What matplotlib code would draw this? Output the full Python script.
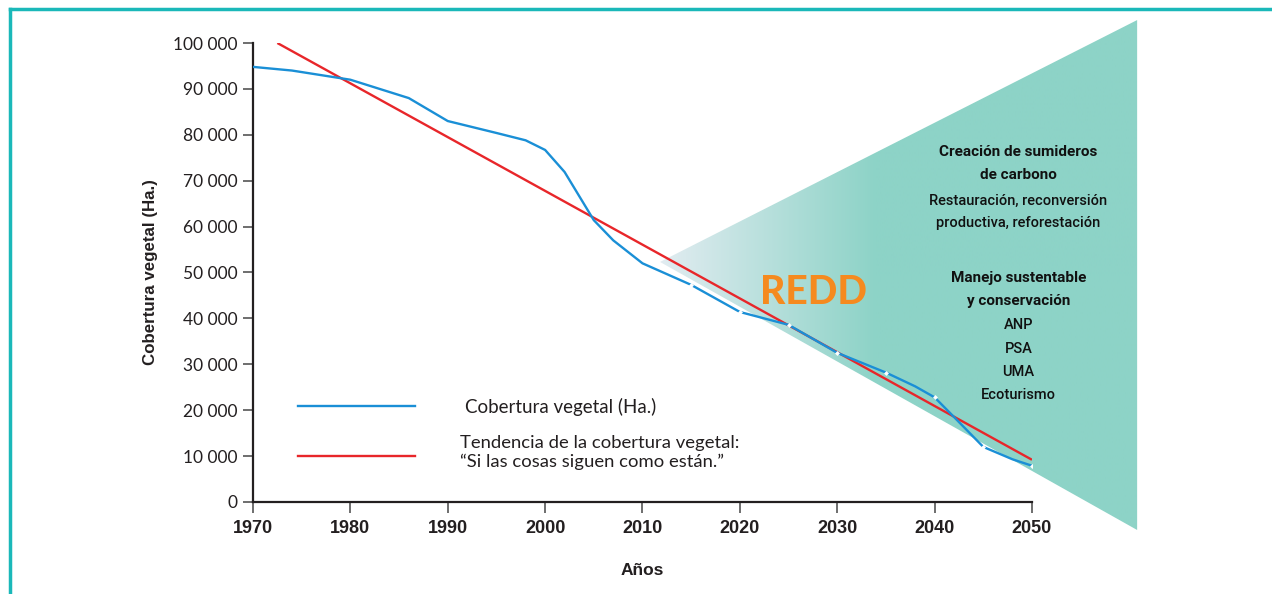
import numpy as np
import matplotlib.pyplot as plt
from matplotlib.lines import Line2D
from matplotlib.patches import Polygon
from matplotlib.ticker import FuncFormatter

# --------------------------
# data
# --------------------------
years_obs = [1970, 1974, 1980, 1986, 1990, 1995, 1998, 2000, 2002, 2005, 2007, 2010,
             2015, 2020, 2025, 2030, 2035, 2038, 2040, 2042, 2045, 2048, 2050]
cover_obs = [94800, 94000, 92000, 88000, 83000, 80400, 78800, 76700, 71900, 61400, 57000, 52000,
             47300, 41400, 38600, 32500, 28200, 25200, 22800, 18500, 12000, 9300, 7900]
dot_years = [2015, 2020, 2025, 2030, 2035, 2040, 2045, 2050]
dot_cover = [47300, 41400, 38600, 32500, 28200, 22800, 12000, 7900]

trend_years = [1972.5, 2050]
trend_cover = [100000, 9200]

# REDD wedge (year, hectares)
wedge_x = [2011.8, 2060.8, 2060.8]
wedge_y = [52300, 105000, -6100]

x_ticks = [1970, 1980, 1990, 2000, 2010, 2020, 2030, 2040, 2050]
y_ticks = list(range(0, 100001, 10000))

blue = "#1a8fd6"
red = "#e8262a"
border = "#1ab8b9"
ink = "#231f20"

plt.rcParams['font.family'] = ['Lato', 'DejaVu Sans']
boldfam = ['Liberation Sans', 'DejaVu Sans']

fig = plt.figure(figsize=(12.72, 5.94), dpi=100)
ax = fig.add_axes([0.1989, 0.1549, 0.6124, 0.7727])

# --------------------------
# wedge with gradient
# --------------------------
tri = Polygon(list(zip(wedge_x, wedge_y)), closed=True, facecolor="none", edgecolor="none",
              transform=ax.transData)
ax.add_patch(tri)
tri.set_clip_on(False)

nx = 400
t = np.clip(np.linspace(0, 1, nx) / 0.45, 0, 1)
c0 = np.array([226, 236, 241]) / 255
c1 = np.array([141, 211, 199]) / 255
grad = (c0[None, :] * (1 - t[:, None]) + c1[None, :] * t[:, None])[None, :, :]
im = ax.imshow(grad, extent=[min(wedge_x), max(wedge_x), min(wedge_y), max(wedge_y)],
               aspect="auto", origin="lower", zorder=0, interpolation="bilinear")
im.set_clip_box(fig.bbox)
im.set_clip_path(tri)

# --------------------------
# lines
# --------------------------
ax.plot(trend_years, trend_cover, color=red, lw=1.7, zorder=3, solid_capstyle="butt")
ax.plot(years_obs, cover_obs, color=blue, lw=1.7, zorder=4)
ax.plot(dot_years, dot_cover, linestyle="none", marker="D", ms=2.5, color="white",
        markeredgewidth=0, zorder=5)

ax.set_xlim(1970, 2050)
ax.set_ylim(0, 100000)
ax.set_xticks(x_ticks)
ax.set_yticks(y_ticks)
ax.yaxis.set_major_formatter(FuncFormatter(lambda v, p: f"{int(v):,}".replace(",", " ")))
for s in ["top", "right"]:
    ax.spines[s].set_visible(False)
for s in ["left", "bottom"]:
    ax.spines[s].set_linewidth(1.6)
    ax.spines[s].set_color(ink)
ax.tick_params(axis="y", direction="out", length=7, width=1.2, color="#555555",
               labelsize=12.5, labelcolor=ink, pad=4)
ax.tick_params(axis="x", direction="out", length=8, width=1.2, color="#555555",
               labelsize=13, labelcolor=ink, pad=5)
for lab in ax.get_xticklabels():
    lab.set_fontweight("bold")
    lab.set_family(boldfam)

ax.set_ylabel("Cobertura vegetal (Ha.)", fontsize=12.2, fontweight="bold", family=boldfam,
              color=ink, labelpad=11)
ax.set_xlabel("Años", fontsize=12.5, fontweight="bold", family=boldfam, color=ink, labelpad=19)

# --------------------------
# legend (drawn by hand to keep the original spacing)
# --------------------------
ax.plot([0.058, 0.208], [0.209, 0.209], color=blue, lw=1.7, transform=ax.transAxes)
ax.plot([0.058, 0.208], [0.100, 0.100], color=red, lw=1.7, transform=ax.transAxes)
ax.text(0.272, 0.207, "Cobertura vegetal (Ha.)", transform=ax.transAxes, fontsize=13.5,
        va="center", color=ink)
ax.text(0.266, 0.108, "Tendencia de la cobertura vegetal:\n\u201cSi las cosas siguen como están.\u201d",
        transform=ax.transAxes, fontsize=13.3, va="center", color=ink, linespacing=1.2)

# --------------------------
# wedge annotations
# --------------------------
ax.text(2027.6, 45700, "REDD", fontsize=28, fontweight="black", color="#f58a1f",
        ha="center", va="center", zorder=6, clip_on=False)

narrow = ['Roboto', 'DejaVu Sans']
lines = [
    ("Creación de sumideros", 76300, "bold"),
    ("de carbono", 71300, "bold"),
    ("Restauración, reconversión", 65600, "normal"),
    ("productiva, reforestación", 60800, "normal"),
    ("Manejo sustentable", 48800, "bold"),
    ("y conservación", 43800, "bold"),
    ("ANP", 38600, "normal"),
    ("PSA", 33300, "normal"),
    ("UMA", 28300, "normal"),
    ("Ecoturismo", 23300, "normal"),
]
for txt, yv, w in lines:
    ax.text(2048.6, yv, txt, family=narrow, fontsize=11 if w == "bold" else 10.5,
            fontweight="bold" if w == "bold" else "medium", ha="center", va="center",
            color="#111111", zorder=6, clip_on=False)

# teal frame on left and top
fig.add_artist(Line2D([0.0078, 0.0078], [0.0, 0.985], color=border, lw=2.5, transform=fig.transFigure))
fig.add_artist(Line2D([0.0078, 1.0], [0.985, 0.985], color=border, lw=2.5, transform=fig.transFigure))

fig.savefig("out.png", dpi=100)
